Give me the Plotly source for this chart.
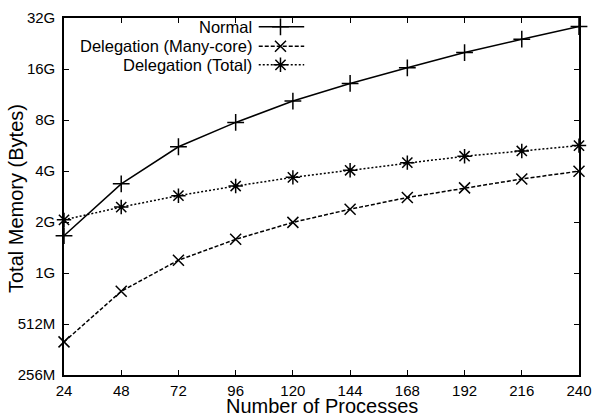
import plotly.graph_objects as go

GB = 2 ** 30

processes = [24, 48, 72, 96, 120, 144, 168, 192, 216, 240]
normal_gb = [1.66, 3.36, 5.56, 7.74, 10.35, 13.15, 16.26, 20.0, 24.0, 28.5]
manycore_gb = [0.392, 0.78, 1.19, 1.58, 1.99, 2.38, 2.79, 3.18, 3.59, 3.99]
total_gb = [2.06, 2.45, 2.86, 3.26, 3.67, 4.04, 4.48, 4.89, 5.25, 5.65]

series_names = ["Normal", "Delegation (Many-core)", "Delegation (Total)"]
y_tick_labels = ["256M", "512M", "1G", "2G", "4G", "8G", "16G", "32G"]
y_tick_vals = [2 ** 28 * 2 ** i for i in range(len(y_tick_labels))]

FONT = "Liberation Sans, Arial, Helvetica, sans-serif"
W, H = 601, 417
L, R, T, B = 64, 16, 9, 42
PW, PH = W - L - R, H - T - B


def px_x(p):
    return (p - L) / PW


def px_y(p):
    return (H - B - p) / PH


styles = [
    dict(dash="solid", symbol="cross-thin-open", size=12),
    dict(dash="4px,2px", symbol="x-thin-open", size=11),
    dict(dash="2px,2px", symbol="asterisk-open", size=12),
]
data = [normal_gb, manycore_gb, total_gb]

fig = go.Figure()
for name, vals, st in zip(series_names, data, styles):
    fig.add_trace(go.Scatter(
        x=processes, y=[v * GB for v in vals], name=name,
        mode="lines+markers",
        line=dict(color="black", width=1.5, dash=st["dash"]),
        marker=dict(symbol=st["symbol"], size=st["size"], color="black",
                    line=dict(color="black", width=1.5)),
        showlegend=False, cliponaxis=False,
    ))

# custom legend (text to the left of the sample, gnuplot style)
row_px = [18, 38, 57]
text_right = 256
line_x0, line_x1, mark_x = 261, 307, 283
for name, st, ry in zip(series_names, styles, row_px):
    fig.add_annotation(x=px_x(text_right), y=px_y(ry), xref="paper", yref="paper",
                       text=name, showarrow=False, xanchor="right", yanchor="middle",
                       font=dict(family=FONT, size=16.5, color="black"))
    fig.add_shape(type="line", xref="paper", yref="paper",
                  x0=px_x(line_x0), x1=px_x(line_x1), y0=px_y(ry), y1=px_y(ry),
                  line=dict(color="black", width=1.5, dash=st["dash"]))
    fig.add_trace(go.Scatter(
        x=[px_x(mark_x)], y=[px_y(ry)], xaxis="x2", yaxis="y2", mode="markers",
        marker=dict(symbol=st["symbol"], size=st["size"], color="black",
                    line=dict(color="black", width=1.5)),
        showlegend=False, hoverinfo="skip", cliponaxis=False,
    ))

# axis titles
fig.add_annotation(x=0.5, y=px_y(407), xref="paper", yref="paper",
                   text="Number of Processes", showarrow=False,
                   xanchor="center", yanchor="middle",
                   font=dict(family=FONT, size=20, color="black"))
fig.add_annotation(x=px_x(16), y=px_y(194), xref="paper", yref="paper",
                   text="Total Memory (Bytes)", showarrow=False, textangle=-90,
                   xanchor="center", yanchor="middle",
                   font=dict(family=FONT, size=20, color="black"))

fig.update_layout(
    width=W, height=H,
    margin=dict(l=L, r=R, t=T, b=B, pad=0),
    paper_bgcolor="white", plot_bgcolor="white",
    font=dict(family=FONT, size=15, color="black"),
    xaxis=dict(
        range=[24, 240], tickvals=processes, ticktext=[str(p) for p in processes],
        ticks="inside", ticklen=5, tickwidth=1, tickcolor="black",
        showline=True, linecolor="black", linewidth=1.5, mirror="ticks",
        showgrid=False, zeroline=False, ticklabelstandoff=1,
        tickfont=dict(family=FONT, size=15, color="black"),
    ),
    yaxis=dict(
        type="log", range=[28 * 0.30103, 35 * 0.30103],
        tickvals=y_tick_vals, ticktext=y_tick_labels,
        ticks="inside", ticklen=5, tickwidth=1, tickcolor="black",
        showline=True, linecolor="black", linewidth=1.5, mirror="ticks",
        showgrid=False, zeroline=False, ticklabelstandoff=4,
        tickfont=dict(family=FONT, size=15, color="black"),
    ),
    xaxis2=dict(overlaying="x", range=[0, 1], visible=False, fixedrange=True),
    yaxis2=dict(overlaying="y", range=[0, 1], visible=False, fixedrange=True),
)

fig.write_html("out.html")
